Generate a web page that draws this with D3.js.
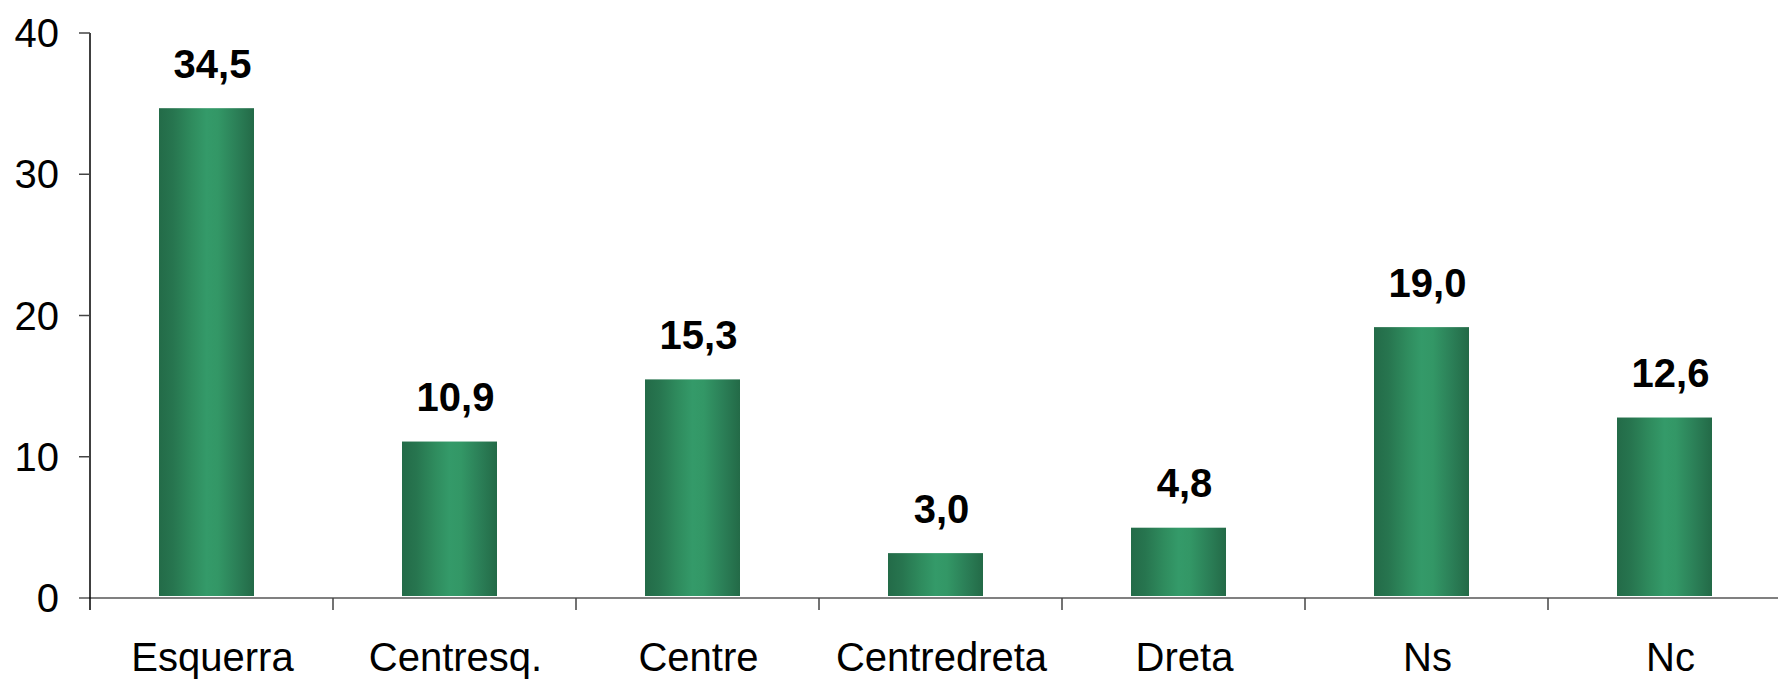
<!DOCTYPE html>
<html>
<head>
<meta charset="utf-8">
<script src="https://cdn.jsdelivr.net/npm/d3@7"></script>
<style>
  html, body { margin: 0; padding: 0; background: #fff; }
  svg { display: block; font-family: "Liberation Sans", Arial, sans-serif; }
</style>
</head>
<body>
<svg id="chart" width="1778" height="680"></svg>
<script>
const categories = ["Esquerra", "Centresq.", "Centre", "Centredreta", "Dreta", "Ns", "Nc"];
const values = [34.5, 10.9, 15.3, 3.0, 4.8, 19.0, 12.6];
const valueLabels = ["34,5", "10,9", "15,3", "3,0", "4,8", "19,0", "12,6"];
const yTicks = [0, 10, 20, 30, 40];

const svg = d3.select("#chart");
const x0 = 90, band = 243;
const x = d3.scaleBand().domain(categories).range([x0, x0 + band * categories.length]).padding(0);
const y = d3.scaleLinear().domain([0, 40]).range([598, 33]);

const defs = svg.append("defs");
const grad = defs.append("linearGradient").attr("id", "barGrad")
  .attr("x1", "0%").attr("x2", "100%").attr("y1", "0%").attr("y2", "0%");
[["0%", "#236b48"], ["15%", "#27754f"], ["35%", "#2f8c5e"], ["50%", "#349a69"], ["62%", "#339766"], ["82%", "#2b7f57"], ["100%", "#236a47"]]
  .forEach(([o, c]) => grad.append("stop").attr("offset", o).attr("stop-color", c));

// bars
const barOffset = 69, barW = 95, topShift = 2.5;
svg.append("g").selectAll("rect").data(categories).join("rect")
  .attr("x", (d) => x(d) + barOffset)
  .attr("width", barW)
  .attr("y", (d, i) => y(values[i]) - topShift)
  .attr("height", (d, i) => y(0) - 2 - y(values[i]) + topShift)
  .attr("fill", "url(#barGrad)");

// value labels
svg.append("g").selectAll("text").data(categories).join("text")
  .attr("x", (d) => x(d) + x.bandwidth() / 2 + 1)
  .attr("y", (d, i) => y(values[i]) - 33)
  .attr("text-anchor", "middle")
  .attr("font-size", 40)
  .attr("font-weight", "bold")
  .attr("fill", "#000")
  .text((d, i) => valueLabels[i]);

// x axis
const xAxis = svg.append("g");
xAxis.append("line").attr("x1", 79).attr("x2", 1778).attr("y1", y(0)).attr("y2", y(0))
  .attr("stroke", "#808080").attr("stroke-width", 2);
xAxis.selectAll("line.tick").data(categories.slice(1)).join("line").attr("class", "tick")
  .attr("x1", (d) => x(d)).attr("x2", (d) => x(d))
  .attr("y1", y(0)).attr("y2", y(0) + 12)
  .attr("stroke", "#444").attr("stroke-width", 1.5);
xAxis.selectAll("text").data(categories).join("text")
  .attr("x", (d) => x(d) + x.bandwidth() / 2 + 1)
  .attr("y", 671)
  .attr("text-anchor", "middle")
  .attr("font-size", 40)
  .attr("fill", "#000")
  .text((d) => d);

// y axis
const yAxis = svg.append("g");
yAxis.append("line").attr("x1", x0).attr("x2", x0).attr("y1", y(40)).attr("y2", y(0) + 12)
  .attr("stroke", "#000").attr("stroke-width", 1.5);
yAxis.selectAll("line.tick").data(yTicks.slice(1)).join("line").attr("class", "tick")
  .attr("x1", 79).attr("x2", x0).attr("y1", (d) => y(d)).attr("y2", (d) => y(d))
  .attr("stroke", "#444").attr("stroke-width", 1.5);
yAxis.selectAll("text").data(yTicks).join("text")
  .attr("x", 59)
  .attr("y", (d) => y(d) + 14)
  .attr("text-anchor", "end")
  .attr("font-size", 40)
  .attr("fill", "#000")
  .text((d) => d);
</script>
</body>
</html>
